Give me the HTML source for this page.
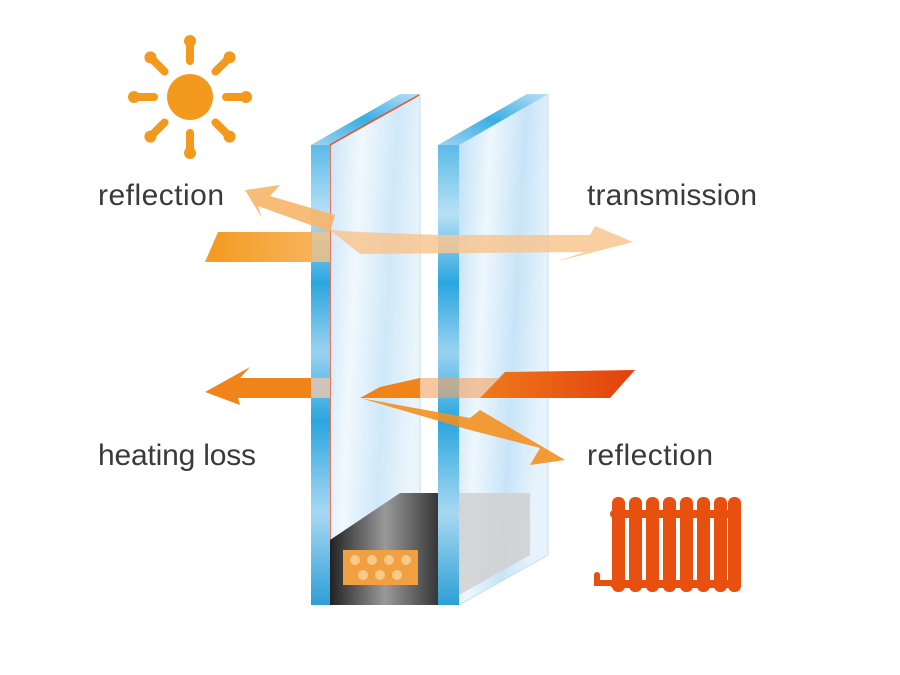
<!DOCTYPE html>
<html><head><meta charset="utf-8"><style>
html,body{margin:0;padding:0;background:#fff;}
svg{display:block}
text{font-family:"Liberation Sans",sans-serif;font-size:30px;fill:#3a3a3a}
</style></head><body>
<svg width="900" height="675" viewBox="0 0 900 675" xmlns="http://www.w3.org/2000/svg">
<defs>
<linearGradient id="face" x1="0" y1="0" x2="1" y2="0.3">
<stop offset="0" stop-color="#bfdff5"/><stop offset="0.35" stop-color="#eef7fd"/><stop offset="0.7" stop-color="#c8e4f7"/><stop offset="1" stop-color="#e6f3fc"/></linearGradient>
<linearGradient id="edge" x1="0" y1="0" x2="0" y2="1">
<stop offset="0" stop-color="#5bbbe8"/><stop offset="0.15" stop-color="#b8e0f5"/><stop offset="0.3" stop-color="#2aa6e0"/><stop offset="0.45" stop-color="#9ad2f0"/><stop offset="0.6" stop-color="#2aa6e0"/><stop offset="0.8" stop-color="#a8d8f2"/><stop offset="1" stop-color="#2e9fd8"/></linearGradient>
<linearGradient id="top" x1="0" y1="1" x2="1" y2="0">
<stop offset="0" stop-color="#9fd3f0"/><stop offset="0.5" stop-color="#3aaee3"/><stop offset="1" stop-color="#b9e1f6"/></linearGradient>
<linearGradient id="org" x1="0" y1="0" x2="1" y2="0">
<stop offset="0" stop-color="#f39a1e"/><stop offset="1" stop-color="#f7b35a"/></linearGradient>
<linearGradient id="red" x1="0" y1="0" x2="1" y2="0">
<stop offset="0" stop-color="#f07a1a"/><stop offset="1" stop-color="#e2400e"/></linearGradient>
<linearGradient id="blk" x1="0" y1="0" x2="1" y2="0">
<stop offset="0" stop-color="#222"/><stop offset="0.5" stop-color="#999"/><stop offset="1" stop-color="#333"/></linearGradient>
</defs>

<g fill="#f39a1e" transform="translate(190,97)">
<circle r="23"/>
<g id="ray"><rect x="-4" y="-58" width="8" height="26" rx="4"/><circle cy="-56" r="6"/></g>
<use href="#ray" transform="rotate(45)"/><use href="#ray" transform="rotate(90)"/><use href="#ray" transform="rotate(135)"/>
<use href="#ray" transform="rotate(180)"/><use href="#ray" transform="rotate(225)"/><use href="#ray" transform="rotate(270)"/><use href="#ray" transform="rotate(315)"/>
</g>

<!-- pane 2 -->
<polygon points="459,145 548,94 548,555 459,605" fill="url(#face)" stroke="#bfe0f3"/>
<polygon points="438,145 527,94 548,94 459,145" fill="url(#top)"/>

<!-- pane 1 face -->
<polygon points="330,145 420,94 420,555 330,605" fill="url(#face)" fill-opacity="0.85" stroke="#bfe0f3"/>
<polygon points="311,145 400,94 420,94 330,145" fill="url(#top)"/>
<line x1="330" y1="145" x2="330" y2="545" stroke="#e8502a" stroke-width="1.5"/>
<line x1="330" y1="145" x2="419" y2="95" stroke="#e8502a" stroke-width="1.5"/>

<!-- spacer -->
<polygon points="440,520 460,493 530,493 530,555 459,595" fill="#d0d0d0" opacity="0.85"/>
<polygon points="330,540 400,493 440,493 440,605 330,605" fill="url(#blk)"/>
<rect x="343" y="550" width="75" height="35" fill="#f0a040"/>
<g fill="#f9c98a"><circle cx="355" cy="560" r="5"/><circle cx="372" cy="560" r="5"/><circle cx="389" cy="560" r="5"/><circle cx="406" cy="560" r="5"/><circle cx="363" cy="575" r="5"/><circle cx="380" cy="575" r="5"/><circle cx="397" cy="575" r="5"/></g>
<rect x="438" y="145" width="21" height="460" fill="url(#edge)"/>
<rect x="311" y="145" width="19" height="460" fill="url(#edge)"/>

<!-- upper arrows -->
<polygon points="205,262 218,232 312,232 312,262" fill="url(#org)"/>
<polygon points="312,232 330,232 330,262 312,262" fill="#f6c080" opacity="0.8"/>
<polygon points="330,230 360,232 440,235 590,235 595,226 633,242 555,262 585,252 360,254" fill="#f8c690" opacity="0.85"/>
<polygon points="330,232 258,206 262,218 245,190 280,185 270,196 335,215" fill="#f7b56a" opacity="0.9"/>

<!-- lower arrows -->
<polygon points="480,398 505,372 635,370 610,398" fill="url(#red)"/>
<polygon points="420,378 500,378 480,398 420,398" fill="#f4a160" opacity="0.6"/>
<polygon points="420,378 420,398 360,398 380,387" fill="#f08418"/>
<polygon points="311,378 240,378 250,367 205,392 240,405 238,398 311,398" fill="#f08418"/>
<rect x="311" y="378" width="19" height="20" fill="#d9c4b5" opacity="0.9"/>
<polygon points="360,398 470,418 480,410 565,460 530,465 540,448 470,430" fill="#f39020" opacity="0.9"/>

<g fill="#e8500f">
<rect x="610" y="510" width="130" height="8" rx="4"/>
<rect x="610" y="580" width="130" height="8" rx="4"/>
<rect x="612" y="497" width="13" height="95" rx="6"/>
<rect x="629" y="497" width="13" height="95" rx="6"/>
<rect x="646" y="497" width="13" height="95" rx="6"/>
<rect x="663" y="497" width="13" height="95" rx="6"/>
<rect x="680" y="497" width="13" height="95" rx="6"/>
<rect x="697" y="497" width="13" height="95" rx="6"/>
<rect x="714" y="497" width="13" height="95" rx="6"/>
<rect x="728" y="497" width="13" height="95" rx="6"/>
<rect x="594" y="580" width="20" height="6"/>
<rect x="594" y="572" width="6" height="14" rx="3"/>
</g>

<text x="98" y="205" textLength="126">reflection</text>
<text x="587" y="205" textLength="170">transmission</text>
<text x="98" y="465" textLength="158">heating loss</text>
<text x="587" y="465" textLength="126">reflection</text>
</svg>
</body></html>
